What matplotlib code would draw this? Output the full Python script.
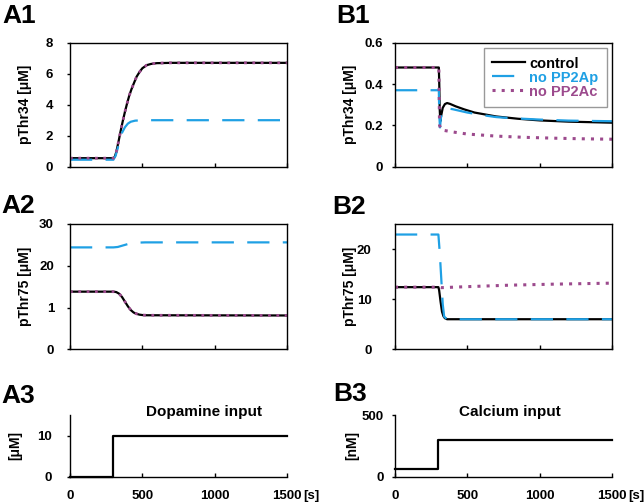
import matplotlib
matplotlib.use("Agg")
import matplotlib.pyplot as plt

plt.rcParams['font.family'] = ['Liberation Sans', 'DejaVu Sans']
plt.rcParams['font.weight'] = 'bold'
plt.rcParams['axes.labelweight'] = 'bold'

BLUE = '#1fa0e4'
PURPLE = '#9c4a8d'

# ---------------- data ----------------
# A1: pThr34, dopamine input
tA1_ctrl = [0, 300, 310, 320, 335, 350, 365, 380, 395, 410, 425, 440, 460, 480, 500, 530, 560, 600, 700, 1500]
A1_ctrl = [0.55, 0.55, 0.65, 0.95, 1.6, 2.3, 2.95, 3.55, 4.1, 4.6, 5.0, 5.35, 5.8, 6.1, 6.35, 6.55, 6.63, 6.68, 6.7, 6.7]
A1_noPP2Ac = [0.55, 0.55, 0.65, 0.95, 1.6, 2.3, 2.95, 3.55, 4.1, 4.6, 5.0, 5.35, 5.8, 6.1, 6.35, 6.55, 6.63, 6.68, 6.7, 6.7]
tA1_blue = [0, 300, 315, 330, 345, 360, 380, 400, 420, 450, 500, 1500]
A1_noPP2Ap = [0.45, 0.45, 0.7, 1.2, 1.75, 2.2, 2.55, 2.78, 2.9, 2.97, 3.0, 3.0]

# A2: pThr75, dopamine input
tA2_ctrl = [0, 300, 320, 340, 360, 380, 400, 420, 440, 460, 480, 500, 530, 1500]
A2_ctrl = [13.8, 13.8, 13.7, 13.3, 12.5, 11.4, 10.3, 9.4, 8.8, 8.5, 8.3, 8.2, 8.15, 8.1]
A2_noPP2Ac = [13.8, 13.8, 13.7, 13.3, 12.5, 11.4, 10.3, 9.4, 8.8, 8.5, 8.3, 8.2, 8.15, 8.1]
tA2_blue = [0, 300, 330, 360, 400, 440, 480, 520, 1500]
A2_noPP2Ap = [24.4, 24.4, 24.5, 24.8, 25.2, 25.45, 25.55, 25.6, 25.6]

# B1: pThr34, calcium input
tB1_ctrl = [0, 303, 306, 309, 313, 320, 330, 345, 360, 380, 420, 480, 550, 700, 850, 1000, 1200, 1500]
B1_ctrl = [0.48, 0.48, 0.40, 0.28, 0.22, 0.25, 0.285, 0.303, 0.308, 0.304, 0.292, 0.277, 0.262, 0.243, 0.232, 0.224, 0.218, 0.213]
tB1_blue = [0, 303, 306, 311, 318, 330, 345, 360, 400, 450, 500, 600, 700, 800, 1000, 1200, 1500]
B1_noPP2Ap = [0.37, 0.37, 0.25, 0.19, 0.24, 0.27, 0.28, 0.283, 0.278, 0.27, 0.262, 0.25, 0.24, 0.235, 0.228, 0.223, 0.22]
tB1_purple = [0, 303, 308, 320, 400, 500, 700, 900, 1100, 1300, 1500]
B1_noPP2Ac = [0.48, 0.48, 0.20, 0.178, 0.168, 0.158, 0.148, 0.142, 0.138, 0.135, 0.133]

# B2: pThr75, calcium input
tB2_ctrl = [0, 300, 305, 315, 325, 335, 345, 360, 380, 1500]
B2_ctrl = [12.4, 12.4, 11.8, 9.5, 7.5, 6.6, 6.2, 6.0, 6.0, 6.0]
tB2_blue = [0, 300, 310, 320, 330, 340, 360, 1500]
B2_noPP2Ap = [22.9, 22.9, 19.0, 14.0, 9.0, 6.5, 6.0, 6.0]
tB2_purple = [0, 300, 320, 500, 800, 1100, 1500]
B2_noPP2Ac = [12.4, 12.4, 12.3, 12.5, 12.8, 13.0, 13.2]

# inputs
t_input = [0, 300, 300, 1500]
dopamine = [0, 0, 10, 10]
calcium = [60, 60, 300, 300]

x_ticks = [0, 500, 1000, 1500]
x_ticklabels = ['0', '500', '1000', '1500']

# ---------------- figure ----------------
W, H = 644, 504
fig = plt.figure(figsize=(W / 100, H / 100), dpi=100)


def ax_px(l, t, r, b):
    return fig.add_axes([l / W, 1 - b / H, (r - l) / W, (b - t) / H])


axA1 = ax_px(70, 42.7, 287, 166.7)
axB1 = ax_px(395, 42.7, 612, 166.7)
axA2 = ax_px(70, 224, 287, 349.3)
axB2 = ax_px(395, 224, 612, 349.3)
axA3 = ax_px(70, 415, 287, 476.5)
axB3 = ax_px(395, 415, 612, 476.5)

LW = 1.6
dash = (0, (10, 6))
dot = (0, (1, 2))
TS = 9.5


def style(ax, ypad, labels=False):
    ax.set_xlim(0, 1500)
    ax.set_xticks(x_ticks)
    if labels:
        ax.set_xticklabels(x_ticklabels)
    else:
        ax.set_xticklabels([])
    ax.tick_params(axis='x', direction='in', length=3, width=1, pad=9.5, labelsize=TS)
    ax.tick_params(axis='y', direction='out', length=2, width=1, pad=ypad, labelsize=TS)
    for s in ax.spines.values():
        s.set_linewidth(1.0)


# A1
axA1.plot(tA1_ctrl, A1_ctrl, color='black', lw=LW)
axA1.plot(tA1_blue, A1_noPP2Ap, color=BLUE, lw=LW, linestyle=dash)
axA1.plot(tA1_ctrl, A1_noPP2Ac, color=PURPLE, lw=2.0, linestyle=dot)
axA1.set_ylim(0, 8)
axA1.set_yticks([0, 2, 4, 6, 8])
style(axA1, 10)
axA1.set_ylabel('pThr34 [μM]', fontsize=10)
axA1.yaxis.set_label_coords(-0.175, 0.5)

# B1
lc, = axB1.plot(tB1_ctrl, B1_ctrl, color='black', lw=LW, label='control')
lb, = axB1.plot(tB1_blue, B1_noPP2Ap, color=BLUE, lw=LW, linestyle=dash, label='no PP2Ap')
lp, = axB1.plot(tB1_purple, B1_noPP2Ac, color=PURPLE, lw=2.2, linestyle=dot, label='no PP2Ac')
axB1.set_ylim(0, 0.6)
axB1.set_yticks([0, 0.2, 0.4, 0.6])
axB1.set_yticklabels(['0', '0.2', '0.4', '0.6'])
style(axB1, 6.5)
axB1.set_ylabel('pThr34 [μM]', fontsize=10)
axB1.yaxis.set_label_coords(-0.175, 0.5)
leg = axB1.legend(handles=[lc, lb, lp], loc='upper right', frameon=True,
                  prop={'size': 10.5, 'weight': 'bold'},
                  fancybox=False, edgecolor='#808080', handlelength=2.2, handletextpad=0.3,
                  labelspacing=0.0, borderpad=0.6, borderaxespad=0.35)
leg.get_frame().set_linewidth(1.0)
for txt, c in zip(leg.get_texts(), ['black', BLUE, PURPLE]):
    txt.set_color(c)

# A2
axA2.plot(tA2_ctrl, A2_ctrl, color='black', lw=LW)
axA2.plot(tA2_blue, A2_noPP2Ap, color=BLUE, lw=LW, linestyle=dash)
axA2.plot(tA2_ctrl, A2_noPP2Ac, color=PURPLE, lw=2.0, linestyle=dot)
axA2.set_ylim(0, 30)
axA2.set_yticks([0, 10, 20, 30])
axA2.set_yticklabels(['0', '1', '20', '30'])
style(axA2, 9.5)
axA2.set_ylabel('pThr75 [μM]', fontsize=10)
axA2.yaxis.set_label_coords(-0.175, 0.5)

# B2
axB2.plot(tB2_ctrl, B2_ctrl, color='black', lw=LW)
axB2.plot(tB2_blue, B2_noPP2Ap, color=BLUE, lw=LW, linestyle=dash)
axB2.plot(tB2_purple, B2_noPP2Ac, color=PURPLE, lw=2.2, linestyle=dot)
axB2.set_ylim(0, 25)
axB2.set_yticks([0, 10, 20])
style(axB2, 15)
axB2.set_ylabel('pThr75 [μM]', fontsize=10)
axB2.yaxis.set_label_coords(-0.175, 0.5)

# A3
axA3.plot(t_input, dopamine, color='black', lw=LW, clip_on=False)
axA3.set_ylim(0, 15)
axA3.set_yticks([0, 10])
style(axA3, 11, labels=True)
axA3.spines['top'].set_visible(False)
axA3.spines['right'].set_visible(False)
axA3.set_ylabel('[μM]', fontsize=10)
axA3.yaxis.set_label_coords(-0.22, 0.5)
axA3.text(0.617, 1.05, 'Dopamine input', transform=axA3.transAxes, ha='center', va='center',
          fontsize=11, fontweight='bold')
axA3.annotate('[s]', xy=(1, 0), xycoords='axes fraction', xytext=(11.5, -9.5),
              textcoords='offset points', ha='left', va='top', fontsize=TS, fontweight='bold')

# B3
axB3.plot(t_input, calcium, color='black', lw=LW, clip_on=False)
axB3.set_ylim(0, 500)
axB3.set_yticks([0, 500])
style(axB3, 6, labels=True)
axB3.spines['top'].set_visible(False)
axB3.spines['right'].set_visible(False)
axB3.set_ylabel('[nM]', fontsize=10)
axB3.yaxis.set_label_coords(-0.166, 0.5)
axB3.text(0.53, 1.05, 'Calcium input', transform=axB3.transAxes, ha='center', va='center',
          fontsize=11, fontweight='bold')
axB3.annotate('[s]', xy=(1, 0), xycoords='axes fraction', xytext=(11.5, -9.5),
              textcoords='offset points', ha='left', va='top', fontsize=TS, fontweight='bold')

# panel labels
for lab, x, y in [('A1', 2, 4), ('B1', 336, 4), ('A2', 1, 194), ('B2', 332, 195),
                  ('A3', 1, 384), ('B3', 333, 382)]:
    fig.text(x / W, 1 - y / H, lab, ha='left', va='top', fontsize=19, fontweight='bold')

fig.savefig('out.png', dpi=100)
